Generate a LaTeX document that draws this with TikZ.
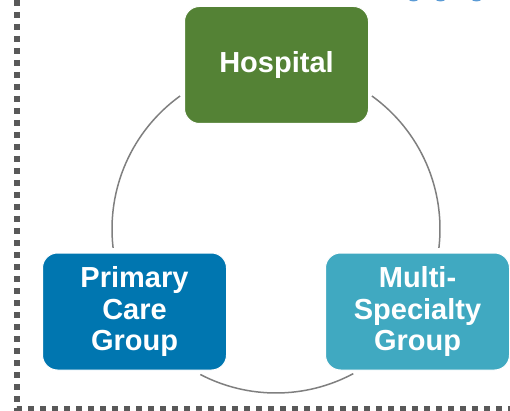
\documentclass[tikz,border=0pt]{standalone}
\usepackage{fontspec}
\setmainfont{Liberation Sans}
\definecolor{hgreen}{HTML}{548235}
\definecolor{pblue}{HTML}{0076B0}
\definecolor{mteal}{HTML}{40A9C1}
\definecolor{arcgray}{HTML}{7F7F7F}
\definecolor{dashgray}{HTML}{595959}
\definecolor{dotblue}{HTML}{5B9BD5}
\tikzset{
  boxnode/.style={rounded corners=15pt, draw=white, line width=1pt, minimum width=184pt, minimum height=117pt,
    text=white, font=\bfseries\fontsize{29}{31.5}\selectfont, align=center, inner sep=0pt},
  ring/.style={draw=arcgray, line width=1.5pt},
  border/.style={draw=dashgray, line width=6pt, dash pattern=on 6pt off 6pt}
}
\begin{document}
\begin{tikzpicture}[x=1pt,y=-1pt]
\useasboundingbox (0,0) rectangle (510,411);
\begin{scope}
\clip (0,0) rectangle (510,411);
\fill[dotblue] (413.5,-6.5) circle (8);
\fill[dotblue] (440.5,-6.5) circle (8);
\fill[dotblue] (476.5,-6.5) circle (8);
\end{scope}
\coordinate (bl) at (17,409);
\coordinate (tl) at (17,0);
\coordinate (br) at (510,409);
\draw[border] (tl) -- (bl) -- (br);
\coordinate (c) at (276,229);
\draw[ring] ([shift={(-125.8:164)}]c) arc[start angle=-125.8, end angle=-186.6, radius=164];
\draw[ring] ([shift={(-54.2:164)}]c) arc[start angle=-54.2, end angle=6.6, radius=164];
\draw[ring] ([shift={(-242.5:164)}]c) arc[start angle=-242.5, end angle=-298.1, radius=164];
\node[boxnode, fill=hgreen] (hosp) at (276.5,65) {Hospital};
\node[boxnode, fill=pblue] (pcg) at (134.5,311.5) {Primary\\Care\\Group};
\node[boxnode, fill=mteal] (msg) at (417.5,311.5) {Multi-\\Specialty\\Group};
\end{tikzpicture}
\end{document}
